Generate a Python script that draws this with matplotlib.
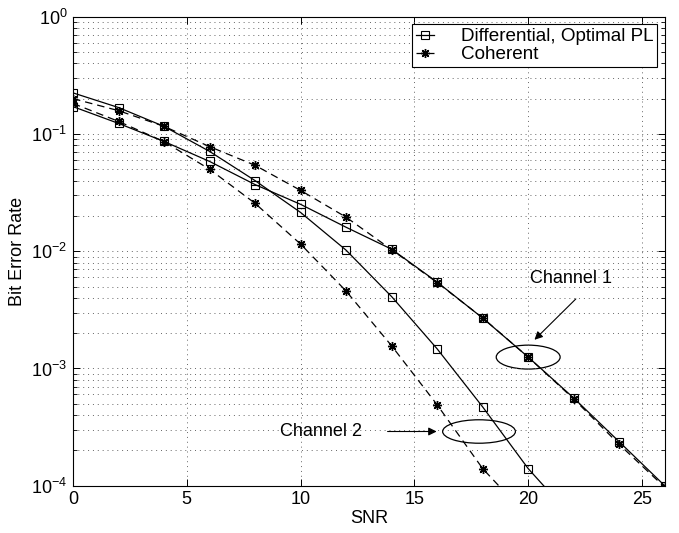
import matplotlib
matplotlib.use("Agg")
import matplotlib.pyplot as plt
from matplotlib.patches import Ellipse
from matplotlib.ticker import LogLocator, NullFormatter
import numpy as np

plt.rcParams['font.family'] = ['Liberation Sans', 'DejaVu Sans']
plt.rcParams['mathtext.default'] = 'regular'

snr = [0, 2, 4, 6, 8, 10, 12, 14, 16, 18, 20, 22, 24, 26]

# channel 1
ber_diff_ch1 = [0.171, 0.123, 0.0863, 0.0583, 0.037, 0.0251, 0.016, 0.0104,
                0.00545, 0.00269, 0.00125, 0.00056, 0.000237, 0.0001]
ber_coh_ch1 = [0.200, 0.158, 0.116, 0.078, 0.054, 0.033, 0.0195, 0.0103,
               0.0054, 0.0027, 0.00125, 0.00055, 0.000225, 0.000097]

# channel 2 (drops below the axis before 26 dB)
snr_diff_ch2 = [0, 2, 4, 6, 8, 10, 12, 14, 16, 18, 20, 22]
ber_diff_ch2 = [0.224, 0.168, 0.116, 0.071, 0.040, 0.0214, 0.0102, 0.0041,
                0.00147, 0.00047, 0.00014, 0.000052]
snr_coh_ch2 = [0, 2, 4, 6, 8, 10, 12, 14, 16, 18, 20]
ber_coh_ch2 = [0.182, 0.128, 0.086, 0.050, 0.0256, 0.0115, 0.00457, 0.00156,
               0.00049, 0.00014, 0.000054]

legend_labels = ["Differential, Optimal PL", "Coherent"]

FS = 13

fig = plt.figure(figsize=(6.79, 5.33), dpi=100)
ax = fig.add_axes([0.1075, 0.0887, 0.8715, 0.88])

sq = dict(marker='s', markersize=6, markerfacecolor='none', markeredgewidth=0.8)
ast = dict(marker=(8, 2, 0), markersize=6.5, markeredgewidth=1.0)
dash = (0, (6, 4))

ax.plot(snr, ber_diff_ch1, color='k', lw=0.9, label=legend_labels[0], **sq)
ax.plot(snr, ber_coh_ch1, color='k', lw=0.9, linestyle=dash, label=legend_labels[1], **ast)
ax.plot(snr_diff_ch2, ber_diff_ch2, color='k', lw=0.9, **sq)
ax.plot(snr_coh_ch2, ber_coh_ch2, color='k', lw=0.9, linestyle=dash, **ast)

ax.set_yscale('log')
ax.set_xlim(0, 26)
ax.set_ylim(1e-4, 1)
ax.set_xticks([0, 5, 10, 15, 20, 25])
ax.yaxis.set_major_locator(LogLocator(base=10, numticks=10))
ax.yaxis.set_minor_locator(LogLocator(base=10, subs=np.arange(2, 10), numticks=10))
ax.yaxis.set_minor_formatter(NullFormatter())

ax.tick_params(which='both', direction='in', top=True, right=True, labelsize=FS)
ax.tick_params(which='major', length=5, width=0.7, pad=4)
ax.tick_params(which='minor', length=3, width=0.6)
for s in ax.spines.values():
    s.set_linewidth(0.8)

grid_style = dict(color='0.4', linestyle=(0, (1, 4)), lw=0.7)
ax.grid(True, which='major', axis='both', **grid_style)
ax.grid(True, which='minor', axis='y', **grid_style)

ax.set_xlabel("SNR", fontsize=FS, labelpad=1)
ax.set_ylabel("Bit Error Rate", fontsize=FS, labelpad=4)

leg = ax.legend(loc='upper right', fontsize=13.6, frameon=True, fancybox=False,
                edgecolor='k', framealpha=1, handlelength=1.0, borderaxespad=0.4,
                borderpad=0.2, labelspacing=0.05, handletextpad=1.4)
leg.get_frame().set_linewidth(0.8)


def frac(x, y):
    # data -> axes fraction on the log scale
    return x / 26.0, (np.log10(y) + 4) / 4.0


# channel labels, arrows and ellipses
ax.add_patch(Ellipse(frac(20, 0.00125), 0.108, 0.051, transform=ax.transAxes,
                     fill=False, color='k', lw=0.9))
ax.add_patch(Ellipse(frac(17.84, 2.9e-4), 0.123, 0.050, transform=ax.transAxes,
                     fill=False, color='k', lw=0.9))

ax.text(*frac(21.87, 0.0058), "Channel 1", transform=ax.transAxes, fontsize=FS,
        ha='center', va='center')
ax.annotate("", xy=frac(20.19, 0.00169), xycoords='axes fraction',
            xytext=frac(22.18, 0.00407), textcoords='axes fraction',
            arrowprops=dict(arrowstyle='-|>', color='k', lw=0.8, mutation_scale=12))

ax.text(*frac(10.89, 2.9e-4), "Channel 2", transform=ax.transAxes, fontsize=FS,
        ha='center', va='center')
ax.annotate("", xy=frac(16.1, 2.9e-4), xycoords='axes fraction',
            xytext=frac(13.7, 2.9e-4), textcoords='axes fraction',
            arrowprops=dict(arrowstyle='-|>', color='k', lw=0.8, mutation_scale=12))

fig.savefig("out.png", dpi=100)
